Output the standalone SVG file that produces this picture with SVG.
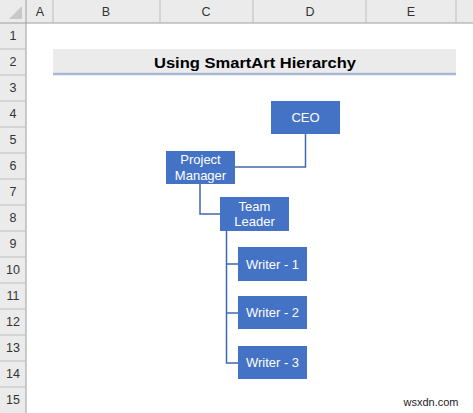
<svg xmlns="http://www.w3.org/2000/svg" width="473" height="413" viewBox="0 0 473 413">
<style>
.hdr{fill:#EBEBEB}
.hl{stroke:#BDBDBD;stroke-width:1}
.ht{font-family:"Liberation Sans",Arial,sans-serif;font-size:12.5px;fill:#333;text-anchor:middle}
.node{fill:#4472C4}
.nt{font-family:"Liberation Sans",Arial,sans-serif;font-size:13px;fill:#fff;text-anchor:middle}
.conn{stroke:#3F68B0;stroke-width:1.5;fill:none}
</style>
<rect width="473" height="413" fill="#fff"/>
<g id="sheet">
<rect class="hdr" x="0" y="0" width="473" height="23"/>
<rect class="hdr" x="0" y="0" width="26" height="413"/>
<polygon points="22,6 22,19 9,19" fill="#C8C8C8"/>
<line class="hl" x1="0" y1="23" x2="473" y2="23" style="stroke:#9E9E9E"/>
<line class="hl" x1="26" y1="0" x2="26" y2="413" style="stroke:#9E9E9E"/>
<g class="hl">
<line x1="53" y1="0" x2="53" y2="23"/><line x1="160" y1="0" x2="160" y2="23"/><line x1="253" y1="0" x2="253" y2="23"/><line x1="366" y1="0" x2="366" y2="23"/><line x1="456" y1="0" x2="456" y2="23"/>
<line x1="0" y1="49" x2="26" y2="49"/><line x1="0" y1="75" x2="26" y2="75"/><line x1="0" y1="101" x2="26" y2="101"/><line x1="0" y1="127" x2="26" y2="127"/><line x1="0" y1="153" x2="26" y2="153"/><line x1="0" y1="179" x2="26" y2="179"/><line x1="0" y1="205" x2="26" y2="205"/><line x1="0" y1="231" x2="26" y2="231"/><line x1="0" y1="257" x2="26" y2="257"/><line x1="0" y1="283" x2="26" y2="283"/><line x1="0" y1="309" x2="26" y2="309"/><line x1="0" y1="335" x2="26" y2="335"/><line x1="0" y1="361" x2="26" y2="361"/><line x1="0" y1="387" x2="26" y2="387"/>
</g>
<g class="ht">
<text x="40" y="16">A</text><text x="106" y="16">B</text><text x="206" y="16">C</text><text x="310" y="16">D</text><text x="411" y="16">E</text>
<text x="13" y="40">1</text><text x="13" y="66">2</text><text x="13" y="92">3</text><text x="13" y="118">4</text><text x="13" y="144">5</text><text x="13" y="170">6</text><text x="13" y="196">7</text><text x="13" y="222">8</text><text x="13" y="248">9</text><text x="13" y="274">10</text><text x="13" y="300">11</text><text x="13" y="326">12</text><text x="13" y="352">13</text><text x="13" y="378">14</text><text x="13" y="404">15</text>
</g>
</g>
<g id="title">
<rect x="53" y="49" width="403" height="25" fill="#EBEBEB"/>
<line x1="53" y1="74" x2="456" y2="74" stroke="#A9B8D6" stroke-width="2.5"/>
<text x="255" y="68" font-family="Liberation Sans,Arial,sans-serif" font-size="14.5" font-weight="bold" fill="#000" text-anchor="middle" textLength="202" lengthAdjust="spacingAndGlyphs">Using SmartArt Hierarchy</text>
</g>
<g id="connectors">
<polyline class="conn" points="305.5,134 305.5,167 235,167"/>
<polyline class="conn" points="200,184 200,214 220,214"/>
<polyline class="conn" points="226.5,231 226.5,363 238,363"/>
<line class="conn" x1="226.5" y1="264" x2="238" y2="264"/>
<line class="conn" x1="226.5" y1="313" x2="238" y2="313"/>
</g>
<g id="ceo"><rect class="node" x="271" y="101" width="69" height="33"/><text class="nt" x="305.5" y="122">CEO</text></g>
<g id="pm"><rect class="node" x="166" y="151" width="69" height="33"/><text class="nt" x="200.5" y="164">Project</text><text class="nt" x="200.5" y="179.5">Manager</text></g>
<g id="tl"><rect class="node" x="220" y="197" width="69" height="34"/><text class="nt" x="254.5" y="210.5">Team</text><text class="nt" x="254.5" y="226">Leader</text></g>
<g id="w1"><rect class="node" x="238" y="247" width="69" height="34"/><text class="nt" x="272.5" y="268.5">Writer - 1</text></g>
<g id="w2"><rect class="node" x="238" y="296" width="69" height="33"/><text class="nt" x="272.5" y="317">Writer - 2</text></g>
<g id="w3"><rect class="node" x="238" y="346" width="69" height="33"/><text class="nt" x="272.5" y="367">Writer - 3</text></g>
<text x="431" y="406" font-family="Liberation Sans,Arial,sans-serif" font-size="11" fill="#222" text-anchor="middle">wsxdn.com</text>
</svg>
